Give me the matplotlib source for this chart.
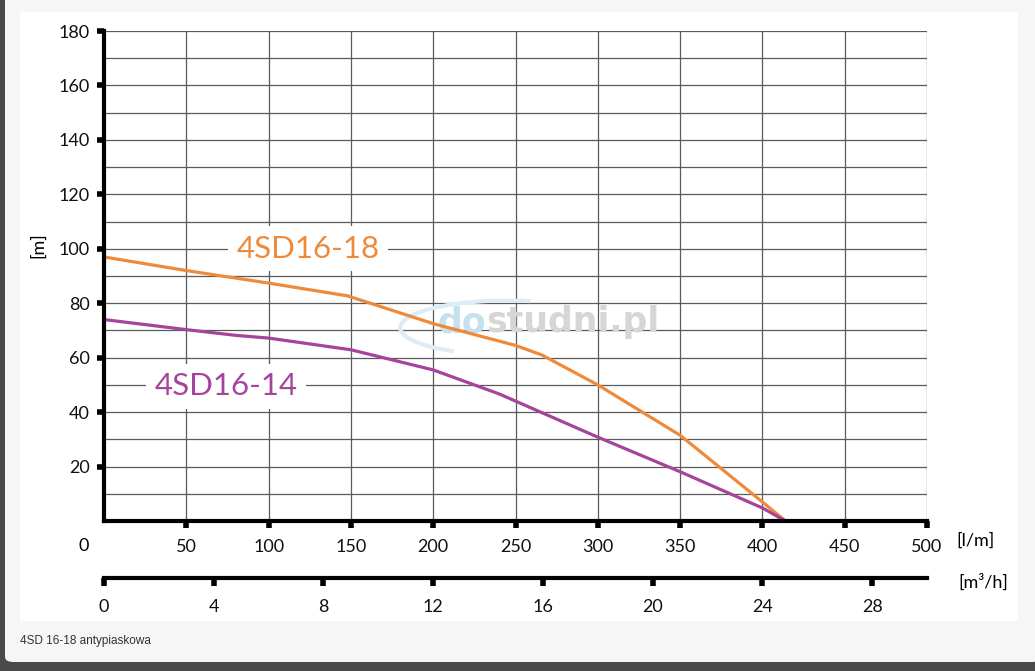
import matplotlib.pyplot as plt
from matplotlib.patches import Rectangle, FancyBboxPatch, Arc

# flow [l/min] and head [m]
flow_18 = [0, 50, 100, 148, 200, 250, 266, 300, 350, 400, 414]
head_18 = [97, 92, 87.4, 82.7, 72.5, 64.5, 61, 50, 31.5, 7, 0]
flow_14 = [0, 50, 80, 100, 150, 200, 240, 300, 350, 400, 414]
head_14 = [74, 70.3, 68.2, 67.2, 62.9, 55.5, 46.7, 30.8, 18.1, 4.8, 0]

lpm_ticks = [50, 100, 150, 200, 250, 300, 350, 400, 450, 500]
head_ticks = [20, 40, 60, 80, 100, 120, 140, 160, 180]
m3h_ticks = [0, 4, 8, 12, 16, 20, 24, 28]

ORANGE = "#ef8a3a"
PURPLE = "#a5449c"
GRID = "#5a5a5a"
FONT = "Lato"

W, H = 1035, 671
fig = plt.figure(figsize=(W / 100, H / 100), dpi=100)
fig.patch.set_facecolor("#4a4a4a")


def fx(px):
    return px / W


def fy(py):
    return 1 - py / H


# page background: modal box, white picture panel
fig.patches.append(FancyBboxPatch((fx(5), fy(662)), fx(1040) - fx(5), fy(0) - fy(662) + 0.02,
                                  boxstyle="round,pad=0,rounding_size=0.008",
                                  transform=fig.transFigure, facecolor="#f6f6f6",
                                  edgecolor="none", zorder=-3))
fig.patches.append(Rectangle((fx(20), fy(621)), fx(1018) - fx(20), fy(12) - fy(621),
                             transform=fig.transFigure, facecolor="white",
                             edgecolor="none", zorder=-2))
fig.text(fx(20), fy(641), "4SD 16-18 antypiaskowa", fontsize=8.5,
         family="Liberation Sans", color="#333333", va="center")

# main chart
ax = fig.add_axes([fx(104), fy(521), fx(927) - fx(104), fy(31) - fy(521)])
ax.set_facecolor("none")
ax.set_xlim(0, 500)
ax.set_ylim(0, 180)

for v in range(50, 501, 50):
    ax.axvline(v, color=GRID, lw=0.9, zorder=1)
for v in range(10, 181, 10):
    ax.axhline(v, color=GRID, lw=0.9, zorder=1)

ax.plot(flow_18, head_18, color=ORANGE, lw=2.3, zorder=3, solid_joinstyle="round")
ax.plot(flow_14, head_14, color=PURPLE, lw=2.3, zorder=3, solid_joinstyle="round")

ax.text(124, 100, "4SD16-18", color=ORANGE, fontsize=22.5, family=FONT,
        ha="center", va="center", zorder=4,
        bbox=dict(facecolor="white", edgecolor="none", pad=6))
ax.text(74, 49.5, "4SD16-14", color=PURPLE, fontsize=22.5, family=FONT,
        ha="center", va="center", zorder=4,
        bbox=dict(facecolor="white", edgecolor="none", pad=6))

# watermark
ax.add_patch(Arc((245, 71), 130, 20, theta1=35, theta2=195, color="#dcedf7",
                 lw=3, zorder=2))
ax.text(232, 73, "do", color="#c4e1f1", fontsize=25, fontweight="bold",
        family="DejaVu Sans", ha="right", va="center", zorder=2)
ax.text(232, 73, "studni.pl", color="#d6d6d6", fontsize=25, fontweight="bold",
        family="DejaVu Sans", ha="left", va="center", zorder=2)

for s in ["top", "right"]:
    ax.spines[s].set_visible(False)
for s in ["left", "bottom"]:
    ax.spines[s].set_linewidth(3)
    ax.spines[s].set_zorder(5)

ax.set_xticks(lpm_ticks)
ax.set_xticklabels([str(t) for t in lpm_ticks])
ax.set_yticks(head_ticks)
ax.set_yticklabels([str(t) for t in head_ticks])
ax.tick_params(axis="both", length=5, width=4, color="black",
               labelsize=13, labelcolor="#111111")
ax.tick_params(axis="x", pad=8)
ax.tick_params(axis="y", pad=5)
for lab in ax.get_xticklabels() + ax.get_yticklabels():
    lab.set_family(FONT)

fig.text(fx(84), fy(546), "0", fontsize=13, family=FONT, ha="center", va="center")
fig.text(fx(976), fy(541), "[l/m]", fontsize=13, family=FONT, ha="center", va="center")
fig.text(fx(38), fy(245), "[m]", fontsize=13, family=FONT, ha="center", va="center",
         rotation=90)

# second flow scale in m3/h
ax2 = fig.add_axes([fx(104), fy(578), fx(927) - fx(104), 0.0001])
ax2.set_facecolor("none")
ax2.set_xlim(0, 500 * 0.06)
ax2.set_yticks([])
for s in ["top", "right", "left"]:
    ax2.spines[s].set_visible(False)
ax2.spines["bottom"].set_linewidth(3)
ax2.set_xticks(m3h_ticks)
ax2.set_xticklabels([str(t) for t in m3h_ticks])
ax2.tick_params(axis="x", length=6, width=4, labelsize=13, pad=9, labelcolor="#111111")
for lab in ax2.get_xticklabels():
    lab.set_family(FONT)
fig.text(fx(983), fy(582), "[m³/h]", fontsize=13, family=FONT, ha="center", va="center")

fig.savefig("out.png", dpi=100, facecolor=fig.get_facecolor())
